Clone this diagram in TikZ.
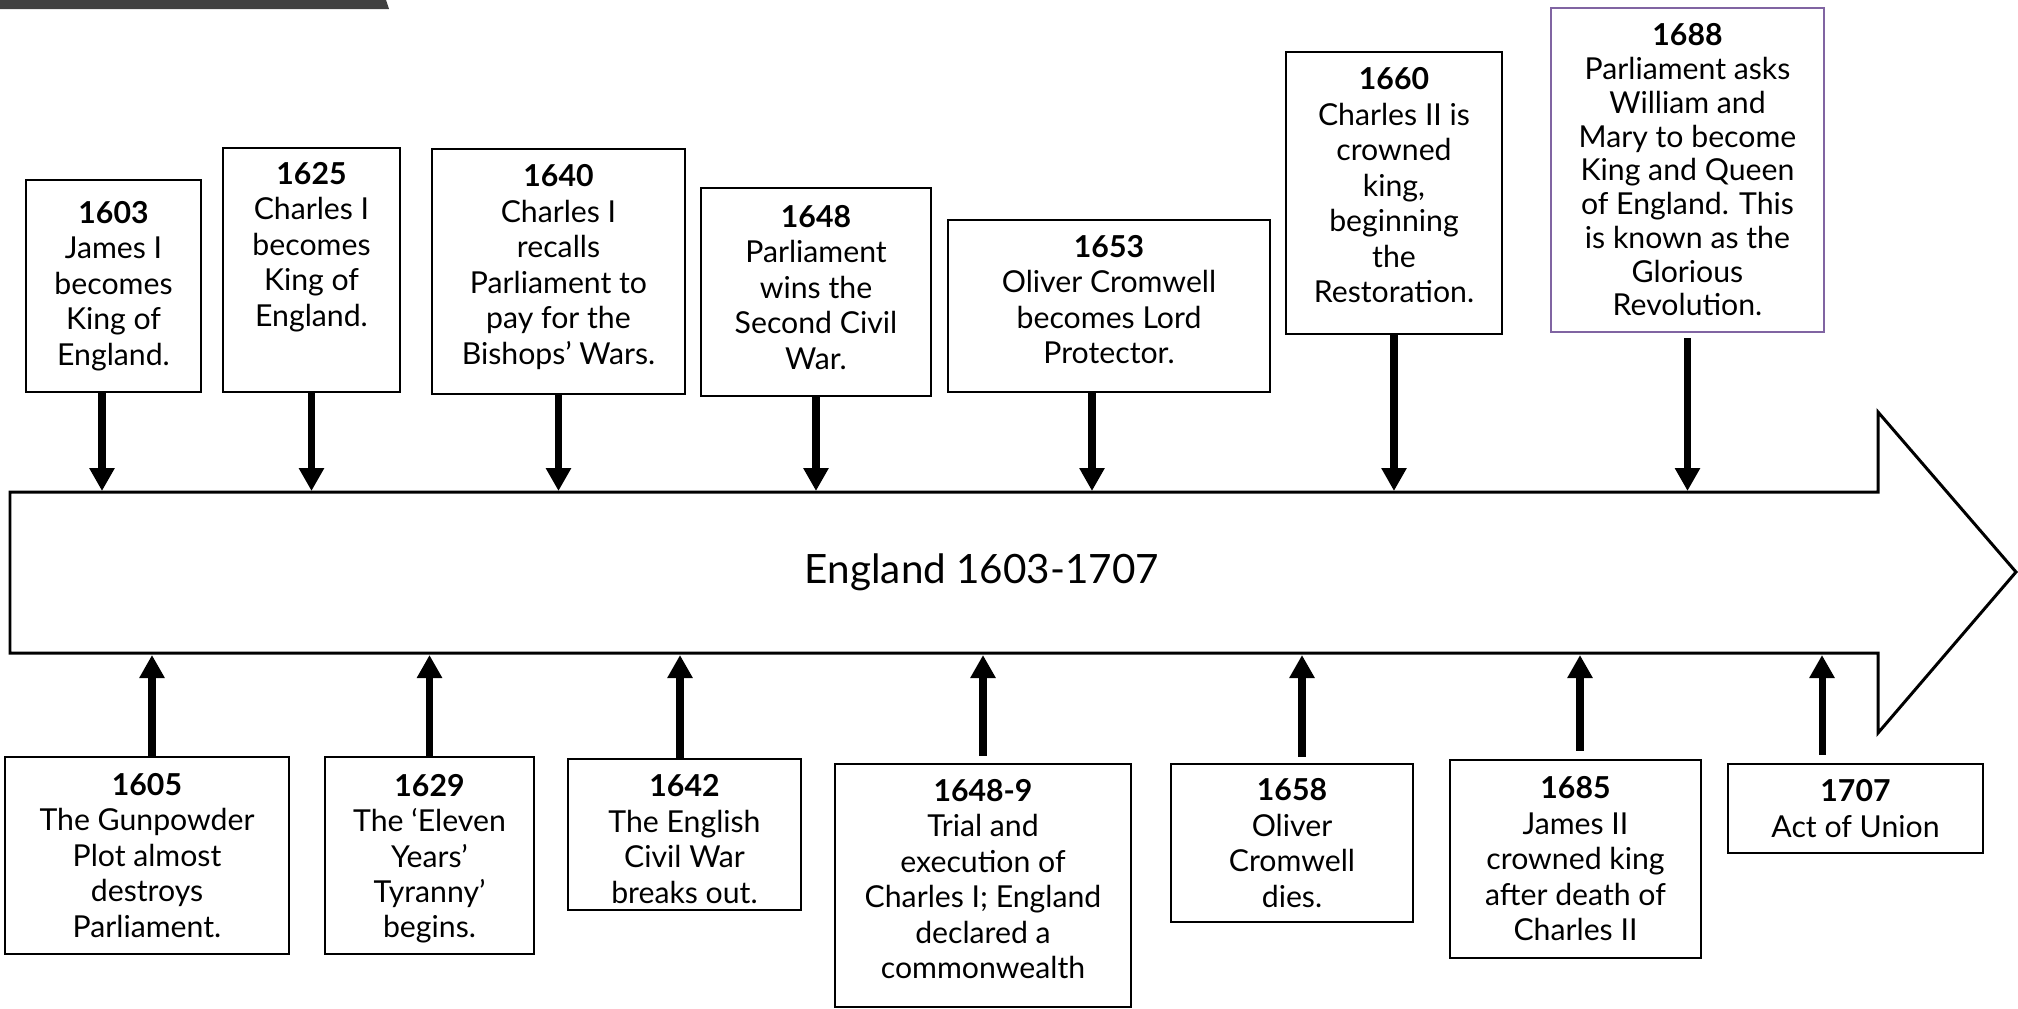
\documentclass[tikz,border=0pt]{standalone}
\usepackage{fontspec}
\setmainfont{Lato}
\usetikzlibrary{arrows.meta}

\definecolor{barclr}{RGB}{64,64,64}
\definecolor{glorious}{RGB}{128,100,162}

\tikzset{
  evt/.style={draw, line width=0.65pt, fill=white, align=center, inner sep=0pt,
    font=\fontsize{8.6}{10.1}\selectfont},
  link/.style={->, line width=2pt},
}

\begin{document}
\begin{tikzpicture}[x=0.1mm, y=-0.1mm, >={Triangle[width=2.4mm,length=2.3mm]}]
      \useasboundingbox (0,0) rectangle (2018,1009);
      \fill [barclr] (0,0) -- (386,0) -- (389,9) -- (0,9) -- cycle;
      % the time line
      \draw [line width=0.85pt] (10,492) -- (1878,492) -- (1878,412) -- (2016,572)
            -- (1878,733) -- (1878,653) -- (10,653) -- cycle;
      \node (title) at (982,572) {\fontsize{11.5}{14}\selectfont England 1603-1707};
      \coordinate (top) at (0,491);
      \coordinate (bot) at (0,655);

      % events above the line
      \node [evt, minimum width=17.5mm, minimum height=21.2mm] (y1603) at (113.5,286)
            {\textbf{1603}\\James I\\becomes\\King of\\England.};
      \node [evt, minimum width=17.7mm, minimum height=24.4mm] (y1625) at (311.5,270)
            {\textbf{1625}\\Charles I\\becomes\\King of\\England.\\[1.6mm]\mbox{}};
      \node [evt, minimum width=25.3mm, minimum height=24.5mm] (y1640) at (558.5,271.5)
            {\textbf{1640}\\Charles I\\recalls\\Parliament to\\pay for the\\Bishops’ Wars.\\[-2.15mm]\mbox{}};
      \node [evt, minimum width=23mm, minimum height=20.8mm] (y1648) at (816,292)
            {\textbf{1648}\\Parliament\\wins the\\Second Civil\\War.\\[-2.55mm]\mbox{}};
      \node [evt, minimum width=32.2mm, minimum height=17.2mm] (y1653) at (1109,306)
            {\textbf{1653}\\Oliver Cromwell\\becomes Lord\\Protector.\\[-2.25mm]\mbox{}};
      \node [evt, minimum width=21.6mm, minimum height=28.2mm] (y1660) at (1394,193)
            {\textbf{1660}\\Charles II is\\crowned\\king,\\beginning\\the\\Restoration.\\[-1.95mm]\mbox{}};
      \node [evt, draw=glorious, minimum width=27.3mm, minimum height=32.4mm,
            font=\fontsize{8.6}{9.6}\selectfont] (y1688) at (1687.5,170)
            {\textbf{1688}\\Parliament asks\\William and\\Mary to become\\King and Queen\\of England. This\\is known as the\\Glorious\\Revolution.};

      % events below the line
      \node [evt, minimum width=28.4mm, minimum height=19.7mm] (y1605) at (147,855.5)
            {\textbf{1605}\\The Gunpowder\\Plot almost\\destroys\\Parliament.};
      \node [evt, minimum width=20.9mm, minimum height=19.7mm] (y1629) at (429.5,855.5)
            {\mbox{}\\[-0.7mm]\textbf{1629}\\The ‘Eleven\\Years’\\Tyranny’\\begins.};
      \node [evt, minimum width=23.3mm, minimum height=15.1mm] (y1642) at (684.5,834.5)
            {\mbox{}\\[-0.4mm]\textbf{1642}\\The English\\Civil War\\breaks out.};
      \node [evt, minimum width=29.6mm, minimum height=24.3mm] (y1648b) at (983,885.5)
            {\textbf{1648-9}\\Trial and\\execution of\\Charles I; England\\declared a\\commonwealth\\[-2.25mm]\mbox{}};
      \node [evt, minimum width=24.2mm, minimum height=15.8mm] (y1658) at (1292,843)
            {\textbf{1658}\\Oliver\\Cromwell\\dies.};
      \node [evt, minimum width=25.1mm, minimum height=19.8mm] (y1685) at (1575.5,859)
            {\textbf{1685}\\James II\\crowned king\\after death of\\Charles II};
      \node [evt, minimum width=25.5mm, minimum height=8.9mm] (y1707) at (1855.5,808.5)
            {\textbf{1707}\\Act of Union};

      % arrows down to the line
      \draw [link] ([xshift=-1.15mm]y1603.south) -- ([xshift=-1.15mm]y1603.south |- top);
      \draw [link] (y1625.south) -- (y1625.south |- top);
      \draw [link] (y1640.south) -- (y1640.south |- top);
      \draw [link] (y1648.south) -- (y1648.south |- top);
      \draw [link] ([xshift=-1.7mm]y1653.south) -- ([xshift=-1.7mm]y1653.south |- top);
      \draw [link] (y1660.south) -- (y1660.south |- top);
      \draw [link, shorten <=0.5mm] (y1688.south) -- (y1688.south |- top);

      % arrows up to the line
      \draw [link] ([xshift=0.5mm]y1605.north) -- ([xshift=0.5mm]y1605.north |- bot);
      \draw [link] (y1629.north) -- (y1629.north |- bot);
      \draw [link] ([xshift=-0.45mm]y1642.north) -- ([xshift=-0.45mm]y1642.north |- bot);
      \draw [link, shorten <=0.7mm] (y1648b.north) -- (y1648b.north |- bot);
      \draw [link, shorten <=0.6mm] ([xshift=1mm]y1658.north) -- ([xshift=1mm]y1658.north |- bot);
      \draw [link, shorten <=0.8mm] ([xshift=0.45mm]y1685.north) -- ([xshift=0.45mm]y1685.north |- bot);
      \draw [link, shorten <=0.8mm] ([xshift=-3.35mm]y1707.north) -- ([xshift=-3.35mm]y1707.north |- bot);
    \end{tikzpicture}
\end{document}
